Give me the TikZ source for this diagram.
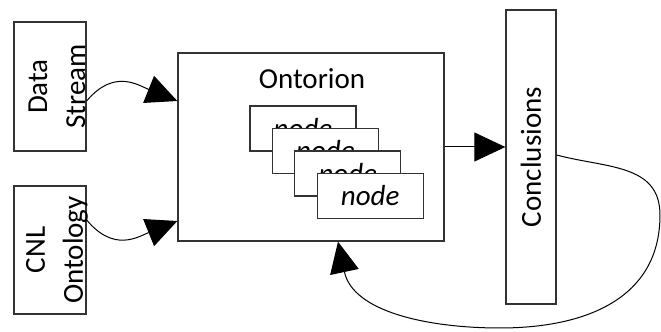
\documentclass[tikz,border=0pt]{standalone}
\usepackage{fontspec}
\setmainfont{Carlito}
\usetikzlibrary{arrows.meta,calc}

\begin{document}
\begin{tikzpicture}[x=0.5pt, y=0.5pt,
    every node/.style={font=\fontsize{14.5}{19}\selectfont},
    block/.style={draw=black!80, line width=0.65pt, fill=white, inner sep=0pt},
    stackbox/.style={block, minimum width=53pt, minimum height=22.5pt},
    boxtext/.style={inner sep=0pt, align=center},
    flow/.style={-{Triangle[length=15.5pt, width=14.5pt]}, line width=0.5pt}]
            \def \xin           {50}
            \def \xintext     {57}
            \def \ystream     {245.5}
            \def \yonto        {82}
            \def \xmid          {311}
            \def \ymid          {185}
            \def \xout          {531}
            \def \yout          {175}

            \useasboundingbox (0, 0) rectangle (661, 332);
% inputs
            \node [block, minimum width=36pt, minimum height=64.5pt] (stream) at (\xin, \ystream) {};
            \node [boxtext, rotate=90] (streamtext) at (\xintext, \ystream) {Data\\Stream};
            \node [block, minimum width=36pt, minimum height=64pt] (ontology) at (\xin, \yonto) {};
            \node [boxtext, rotate=90] (ontologytext) at (\xintext, \yonto) {CNL\\Ontology};
% reasoner
            \node [block, minimum width=133pt, minimum height=94pt] (ontorion) at (\xmid, \ymid) {};
            \node [boxtext] (title) at (\xmid + 1, \ymid + 68) {Ontorion};
            \foreach \i in {0,...,3}
                \node [stackbox] (node\i) at (303 + 22.4*\i, 203.5 - 22.5*\i) {\textit{node}};
% conclusions
            \node [block, minimum width=25pt, minimum height=147pt] (conclusions) at (\xout, \yout) {};
            \node [boxtext, rotate=90] (conclusionstext) at (\xout, \yout) {Conclusions};
% connectors
            \coordinate (loopright) at (660, 117);
            \coordinate (loopbottom) at (500, 4);
            \draw [flow] ($(stream.east) + (0, -14.5)$) to [out=50, in=158, looseness=1.2] ($(ontorion.west) + (0, 46)$);
            \draw [flow] ($(ontology.east) + (0, 30)$) to [out=-50, in=-158, looseness=1.2] ($(ontorion.west) + (0, -74)$);
            \draw [flow] (ontorion.east) -- (ontorion.east -| conclusions.west);
            \draw [flow] ($(conclusions.east) + (0, 2)$) to [out=-15, in=90, looseness=1.1] (loopright) to [out=-90, in=0, looseness=1.1] (loopbottom) to [out=180, in=-78] ($(ontorion.south) + (27, 0)$);

        \end{tikzpicture}
\end{document}
